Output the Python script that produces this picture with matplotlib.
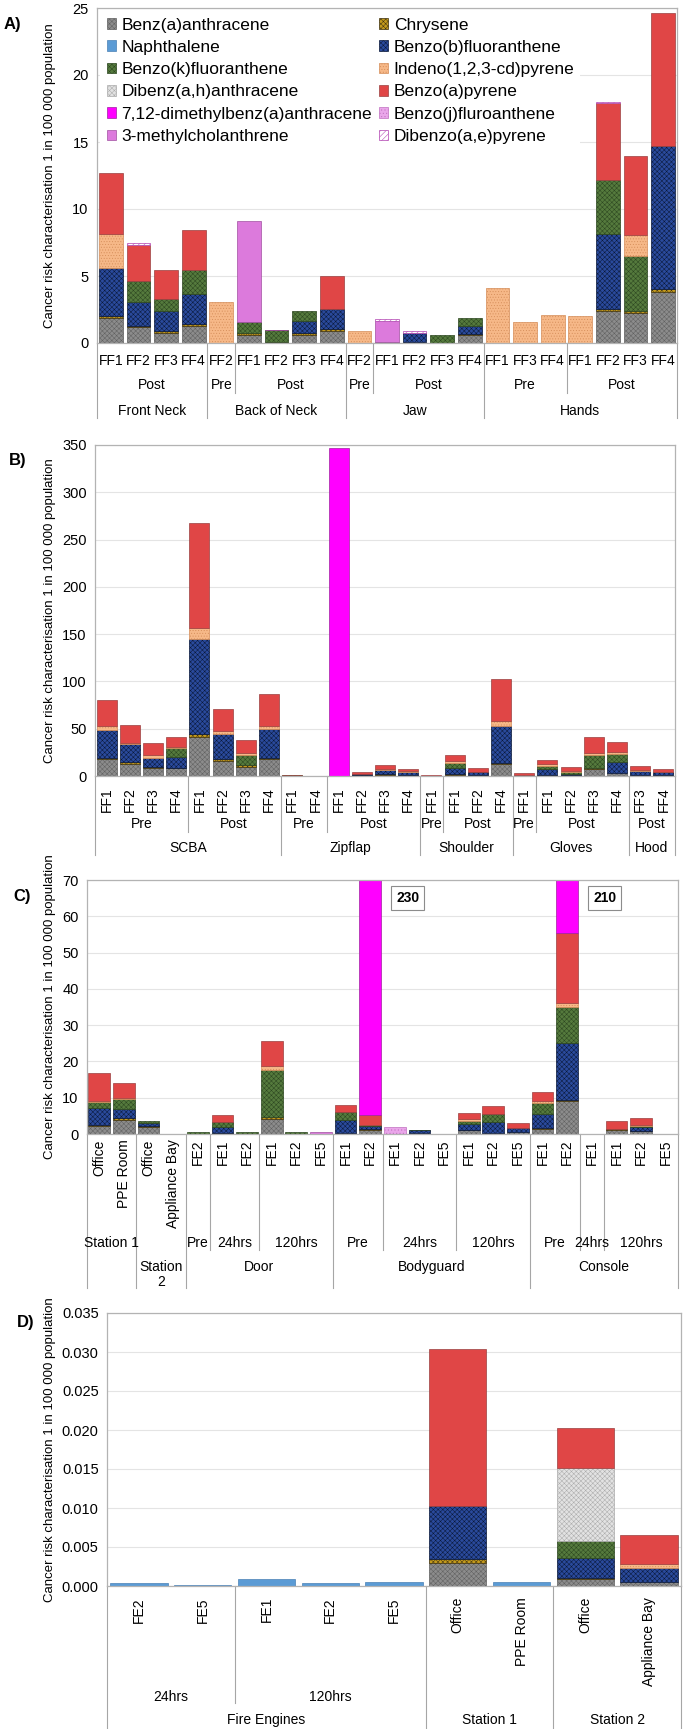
import numpy as np
import matplotlib
matplotlib.use('Agg')
import matplotlib.pyplot as plt
import matplotlib.patches as mpatches
from matplotlib.ticker import MultipleLocator, FormatStrFormatter

plt.rcParams['font.family'] = ['Liberation Sans', 'DejaVu Sans']
plt.rcParams['hatch.linewidth'] = 0.35

W, H = 685, 1729
LINE = '#a6a6a6'
YLABEL = 'Cancer risk characterisation 1 in 100 000 population'

# compound order = stacking order = legend order
COMPOUNDS = ['Benz(a)anthracene', 'Chrysene', 'Naphthalene', 'Benzo(b)fluoranthene',
             'Benzo(k)fluoranthene', 'Indeno(1,2,3-cd)pyrene', 'Dibenz(a,h)anthracene',
             'Benzo(a)pyrene', '7,12-dimethylbenz(a)anthracene', 'Benzo(j)fluroanthene',
             '3-methylcholanthrene', 'Dibenzo(a,e)pyrene']
STYLE = {
    'Benz(a)anthracene': ('#8c8c8c', '#606060', 'xxxxxxx'),
    'Chrysene': ('#c49a1c', '#3c3010', 'xxxxxxx'),
    'Naphthalene': ('#5b9bd5', '#4a80b5', None),
    'Benzo(b)fluoranthene': ('#2a4a9c', '#0a1838', 'xxxxxxx'),
    'Benzo(k)fluoranthene': ('#557a3d', '#2c4620', 'xxxxxxx'),
    'Indeno(1,2,3-cd)pyrene': ('#f6b888', '#d48c58', '......'),
    'Dibenz(a,h)anthracene': ('#e2e2e2', '#ababab', 'xxxxxxx'),
    'Benzo(a)pyrene': ('#e04646', '#9a4040', None),
    '7,12-dimethylbenz(a)anthracene': ('#ff00ff', '#a020a0', None),
    'Benzo(j)fluroanthene': ('#eaa6ea', '#c070c0', '.....'),
    '3-methylcholanthrene': ('#dc7adc', '#a050a0', None),
    'Dibenzo(a,e)pyrene': ('#ffffff', '#b040b0', '//////'),
}

# ---------------- Panel A ----------------
a_labels = ['FF1', 'FF2', 'FF3', 'FF4', 'FF2', 'FF1', 'FF2', 'FF3', 'FF4', 'FF2', 'FF1',
            'FF2', 'FF3', 'FF4', 'FF1', 'FF3', 'FF4', 'FF1', 'FF2', 'FF3', 'FF4']
a_level2 = [('Post', 4), ('Pre', 1), ('Post', 4), ('Pre', 1), ('Post', 4), ('Pre', 3), ('Post', 4)]
a_level3 = [('Front Neck', 4), ('Back of Neck', 5), ('Jaw', 5), ('Hands', 7)]
a_baa = [1.87, 1.17, 0.75, 1.29, 0, 0.62, 0.05, 0.62, 0.92, 0, 0.05, 0.05, 0, 0.57, 0, 0, 0, 0.03, 2.36, 2.24, 3.78]
a_chry = [0.13, 0.07, 0.12, 0.15, 0, 0.13, 0.05, 0.13, 0.12, 0, 0, 0, 0, 0.13, 0, 0, 0, 0, 0.18, 0.12, 0.27]
a_bbf = [3.6, 1.82, 1.54, 2.22, 0, 0, 0, 0.87, 1.52, 0, 0, 0.7, 0, 0.59, 0, 0, 0, 0, 5.62, 0, 10.65]
a_bkf = [0, 1.59, 0.87, 1.79, 0, 0.82, 0.85, 0.79, 0, 0, 0, 0, 0.6, 0.58, 0, 0, 0, 0, 4.0, 4.11, 0]
a_ip = [2.53, 0, 0, 0, 3.03, 0, 0, 0, 0, 0.87, 0, 0, 0, 0, 4.1, 1.54, 2.11, 1.95, 0, 1.61, 0]
a_bap = [4.57, 2.64, 2.19, 3.01, 0, 0, 0, 0, 2.42, 0, 0, 0, 0, 0, 0, 0, 0, 0, 5.74, 5.9, 9.9]
a_3mc = [0, 0, 0, 0, 0, 7.5, 0, 0, 0, 0, 1.62, 0, 0, 0, 0, 0, 0, 0, 0, 0, 0]
a_dbaep = [0, 0.17, 0, 0, 0, 0, 0.03, 0, 0, 0, 0.12, 0.12, 0, 0, 0, 0, 0, 0, 0.1, 0, 0]

# ---------------- Panel B ----------------
b_labels = ['FF1', 'FF2', 'FF3', 'FF4', 'FF1', 'FF2', 'FF3', 'FF4', 'FF1', 'FF4', 'FF1', 'FF2', 'FF3',
            'FF4', 'FF1', 'FF1', 'FF2', 'FF4', 'FF1', 'FF1', 'FF2', 'FF3', 'FF4', 'FF3', 'FF4']
b_level2 = [('Pre', 4), ('Post', 4), ('Pre', 2), ('Post', 4), ('Pre', 1), ('Post', 3), ('Pre', 1), ('Post', 4), ('Post', 2)]
b_level3 = [('SCBA', 8), ('Zipflap', 6), ('Shoulder', 4), ('Gloves', 5), ('Hood', 2)]
b_baa = [17.6, 13, 8, 8, 41.2, 15.8, 9.5, 17.6, 0.4, 0.2, 0, 0.8, 1.5, 1, 0.3, 1.5, 1, 13, 0.8, 1, 1, 7.7, 2.8, 1, 1]
b_chry = [1.8, 1.8, 1.5, 0.8, 3.5, 1.8, 2.1, 1.8, 0.3, 0, 0, 0.5, 0.5, 0.3, 0, 0.5, 0.3, 1, 0, 0.4, 0.5, 1.1, 0, 0.3, 0.2]
b_bbf = [29.6, 18.7, 9.9, 11.6, 100.3, 26.4, 0, 29.9, 0, 0, 0, 0.7, 4.5, 3.2, 0, 6.8, 3.2, 38.8, 0, 5.6, 1, 0, 12, 4, 3]
b_bkf = [0, 0, 0, 9.6, 0, 0, 10.2, 0, 0, 0, 0, 0, 0, 0, 0, 4.6, 0, 0, 0, 3.5, 2.2, 13, 8.1, 0, 0]
b_ip = [3.8, 1.5, 2.4, 1, 11, 3.5, 2.2, 3.5, 0, 0, 0, 0, 1, 0.5, 0, 2.4, 0, 5.2, 0, 1.8, 0.8, 2.8, 2.8, 1, 0.5]
b_bap = [27.2, 18.5, 12.7, 10.5, 112, 23.5, 13.7, 34.2, 0.5, 0, 0, 2.5, 4.5, 2.6, 0.5, 6.4, 4.3, 45, 2, 4.2, 4, 16.9, 10.2, 4.3, 3]
b_dmba = [0, 0, 0, 0, 0, 0, 0, 0, 0, 0, 347, 0, 0, 0, 0, 0, 0, 0, 0, 0, 0, 0, 0, 0, 0]

# ---------------- Panel C ----------------
c_labels = ['Office', 'PPE Room', 'Office', 'Appliance Bay', 'FE2', 'FE1', 'FE2', 'FE1', 'FE2', 'FE5', 'FE1', 'FE2',
            'FE1', 'FE2', 'FE5', 'FE1', 'FE2', 'FE5', 'FE1', 'FE2', 'FE1', 'FE1', 'FE2', 'FE5']
c_level2 = [('Station 1', 2), ('', 2), ('Pre', 1), ('24hrs', 2), ('120hrs', 3), ('Pre', 2), ('24hrs', 3),
            ('120hrs', 3), ('Pre', 2), ('24hrs', 1), ('120hrs', 3)]
c_level3 = [('', 2), ('Station\n2', 2), ('Door', 6), ('Bodyguard', 8), ('Console', 6)]
c_baa = [2.1, 3.9, 1.8, 0, 0.1, 0.2, 0.1, 4.1, 0.1, 0, 0.3, 1, 0, 0.2, 0, 1, 0.3, 0.5, 1.4, 9, 0, 1.2, 0.7, 0]
c_chry = [0.3, 0.5, 0.3, 0, 0, 0.2, 0, 0.5, 0, 0, 0, 0.3, 0, 0, 0, 0.2, 0, 0, 0.2, 0.4, 0, 0.2, 0.2, 0]
c_bbf = [4.8, 2.6, 0.9, 0, 0, 1.6, 0, 0, 0, 0, 3.6, 0.8, 0, 0.8, 0, 1.5, 3, 1.1, 4, 15.6, 0, 0, 1, 0]
c_bkf = [1.6, 2.6, 0.6, 0, 0.5, 1.2, 0.5, 13.1, 0.5, 0, 2.1, 0.3, 0, 0.2, 0, 0.8, 2.2, 0, 2.9, 9.9, 0, 0, 0.2, 0]
c_ip = [0.3, 0.3, 0, 0, 0, 0, 0, 1.1, 0, 0, 0, 0.2, 0, 0, 0, 0.5, 0, 0, 0.7, 1.3, 0, 0, 0.3, 0]
c_bap = [7.7, 4.2, 0, 0, 0, 2.1, 0, 6.7, 0, 0, 1.9, 2.7, 0, 0, 0, 1.9, 2.1, 1.4, 2.5, 19.2, 0, 2.1, 2, 0]
c_dmba = [0, 0, 0, 0, 0, 0, 0, 0, 0, 0, 0, 224.7, 0, 0, 0, 0, 0, 0, 0, 154.6, 0, 0, 0, 0]
c_bjf = [0, 0, 0, 0, 0, 0, 0, 0, 0, 0, 0, 0, 2.0, 0, 0, 0, 0, 0, 0, 0, 0, 0, 0, 0]
c_3mc = [0, 0, 0, 0, 0, 0, 0, 0, 0, 0.45, 0, 0, 0, 0, 0, 0, 0, 0, 0, 0, 0, 0, 0, 0]
c_cut = 70  # y limit, taller bars get a value box

# ---------------- Panel D ----------------
d_labels = ['FE2', 'FE5', 'FE1', 'FE2', 'FE5', 'Office', 'PPE Room', 'Office', 'Appliance Bay']
d_level2 = [('24hrs', 2), ('120hrs', 3), ('', 2), ('', 2)]
d_level3 = [('Fire Engines', 5), ('Station 1', 2), ('Station 2', 2)]
d_baa = [0, 0, 0, 0, 0, 0.003, 0, 0.0009, 0.0005]
d_chry = [0, 0, 0, 0, 0, 0.0004, 0, 0.0001, 0]
d_naph = [0.0004, 0.0001, 0.00095, 0.0004, 0.00045, 0, 0.0005, 0, 0]
d_bbf = [0, 0, 0, 0, 0, 0.0068, 0, 0.0026, 0.0018]
d_bkf = [0, 0, 0, 0, 0, 0, 0, 0.0022, 0]
d_ip = [0, 0, 0, 0, 0, 0, 0, 0, 0.0005]
d_dba = [0, 0, 0, 0, 0, 0, 0, 0.0093, 0]
d_bap = [0, 0, 0, 0, 0, 0.0202, 0, 0.0051, 0.0038]


def stacked(ax, data, width):
    n = len(next(iter(data.values())))
    x = np.arange(n)
    bottom = np.zeros(n)
    for name in COMPOUNDS:
        if name not in data:
            continue
        v = np.array(data[name], dtype=float)
        m = v > 0
        face, edge, hatch = STYLE[name]
        ax.bar(x[m], v[m], width, bottom=bottom[m], color=face, edgecolor=edge,
               hatch=hatch, linewidth=0.5, zorder=2)
        bottom += v
    return bottom


def make_axes(fig, left, right, top, bottom):
    return fig.add_axes([left / W, 1 - bottom / H, (right - left) / W, (bottom - top) / H])


def setup(ax, n, ymax, step, top, bottom):
    ax.set_xlim(-0.5, n - 0.5)
    ax.set_ylim(0, ymax)
    ax.yaxis.set_major_locator(MultipleLocator(step))
    ax.grid(axis='y', color='#e4e4e4', lw=0.8)
    ax.set_axisbelow(True)
    for s in ax.spines.values():
        s.set_color('#b3b3b3')
        s.set_linewidth(0.9)
    ax.tick_params(axis='y', length=0, labelsize=10.5, pad=6)
    ax.set_ylabel(YLABEL, fontsize=9.5)
    ax.yaxis.set_label_coords(56 / W, 1 - (top + bottom) / 2 / H, transform=ax.figure.transFigure)


def categories(ax, labels, level2, level3, ax_h, rot, pad, y2, y3, e2, e3, fs=10):
    ax.set_xticks(range(len(labels)))
    ax.set_xticklabels(labels, rotation=rot, fontsize=fs)
    ax.tick_params(axis='x', length=0, pad=pad)
    tr = ax.get_xaxis_transform()
    bounds = []
    for lev, ypx, va in ((level2, y2, 'center'), (level3, y3, 'top')):
        start, b = 0, {0}
        for lab, k in lev:
            yy = ypx if va == 'center' else ypx - 7
            ax.text(start + k / 2 - 0.5, -yy / ax_h, lab, transform=tr, ha='center', va=va,
                    fontsize=fs, linespacing=1.1)
            start += k
            b.add(start)
        bounds.append(b)
    b2, b3 = bounds
    for b in b3:
        ax.plot([b - 0.5] * 2, [0, -e3 / ax_h], transform=tr, clip_on=False, color=LINE, lw=0.8)
    for b in b2 - b3:
        ax.plot([b - 0.5] * 2, [0, -e2 / ax_h], transform=tr, clip_on=False, color=LINE, lw=0.8)


fig = plt.figure(figsize=(W / 100, H / 100), dpi=100)

# ---- A ----
ax = make_axes(fig, 97, 677, 8, 343)
panel = {'Benz(a)anthracene': a_baa, 'Chrysene': a_chry, 'Benzo(b)fluoranthene': a_bbf,
         'Benzo(k)fluoranthene': a_bkf, 'Indeno(1,2,3-cd)pyrene': a_ip, 'Benzo(a)pyrene': a_bap,
         '3-methylcholanthrene': a_3mc, 'Dibenzo(a,e)pyrene': a_dbaep}
stacked(ax, panel, 0.86)
setup(ax, len(a_labels), 25, 5, 8, 343)
categories(ax, a_labels, a_level2, a_level3, 335, 0, 8, 42, 68, 50, 75)
handles = []
for name in COMPOUNDS:
    face, edge, hatch = STYLE[name]
    handles.append(mpatches.Patch(facecolor=face, edgecolor=edge, hatch=hatch, lw=0.5, label=name))
order = [0, 2, 4, 6, 8, 10, 1, 3, 5, 7, 9, 11]
leg = ax.legend([handles[i] for i in order], [COMPOUNDS[i] for i in order], ncol=2,
                loc='upper left', bbox_to_anchor=(0.0, 1.0), fontsize=12.5, frameon=True,
                handlelength=0.55, handleheight=0.55, handletextpad=0.3, columnspacing=0.4,
                labelspacing=0.42, borderpad=0.35, borderaxespad=0.2)
leg.get_frame().set_edgecolor('none')
leg.get_frame().set_facecolor('white')
leg.get_frame().set_alpha(1)
fig.text(4 / W, 1 - 25 / H, 'A)', fontsize=12, fontweight='bold', va='center')

# ---- B ----
ax = make_axes(fig, 95, 675, 445, 776)
panel = {'Benz(a)anthracene': b_baa, 'Chrysene': b_chry, 'Benzo(b)fluoranthene': b_bbf,
         'Benzo(k)fluoranthene': b_bkf, 'Indeno(1,2,3-cd)pyrene': b_ip, 'Benzo(a)pyrene': b_bap,
         '7,12-dimethylbenz(a)anthracene': b_dmba}
stacked(ax, panel, 0.86)
setup(ax, len(b_labels), 350, 50, 445, 776)
categories(ax, b_labels, b_level2, b_level3, 331, 90, 8, 48, 72, 56, 79)
fig.text(9 / W, 1 - 460 / H, 'B)', fontsize=12, fontweight='bold', va='center')

# ---- C ----
ax = make_axes(fig, 87, 678, 880, 1134)
panel = {'Benz(a)anthracene': c_baa, 'Chrysene': c_chry, 'Benzo(b)fluoranthene': c_bbf,
         'Benzo(k)fluoranthene': c_bkf, 'Indeno(1,2,3-cd)pyrene': c_ip, 'Benzo(a)pyrene': c_bap,
         '7,12-dimethylbenz(a)anthracene': c_dmba, 'Benzo(j)fluroanthene': c_bjf,
         '3-methylcholanthrene': c_3mc}
tot = stacked(ax, panel, 0.88)
setup(ax, len(c_labels), c_cut, 10, 880, 1134)
categories(ax, c_labels, c_level2, c_level3, 254, 90, 4, 109, 133, 116, 154)
for i in np.where(tot > c_cut)[0]:
    ax.annotate(f'{tot[i]:.0f}', xy=(i, 65), xytext=(27, 0), textcoords='offset points',
                ha='center', va='center', fontsize=10, fontweight='bold',
                bbox=dict(boxstyle='square,pad=0.35', fc='white', ec='#8c8c8c', lw=0.8))
fig.text(13 / W, 1 - 897 / H, 'C)', fontsize=12, fontweight='bold', va='center')

# ---- D ----
ax = make_axes(fig, 107, 681, 1313, 1586)
panel = {'Benz(a)anthracene': d_baa, 'Chrysene': d_chry, 'Naphthalene': d_naph,
         'Benzo(b)fluoranthene': d_bbf, 'Benzo(k)fluoranthene': d_bkf,
         'Indeno(1,2,3-cd)pyrene': d_ip, 'Dibenz(a,h)anthracene': d_dba, 'Benzo(a)pyrene': d_bap}
stacked(ax, panel, 0.9)
setup(ax, len(d_labels), 0.035, 0.005, 1313, 1586)
ax.yaxis.set_major_formatter(FormatStrFormatter('%.3f'))
categories(ax, d_labels, d_level2, d_level3, 273, 90, 8, 111, 134, 117, 143)
fig.text(17 / W, 1 - 1323 / H, 'D)', fontsize=12, fontweight='bold', va='center')

fig.savefig('out.png', dpi=100)
